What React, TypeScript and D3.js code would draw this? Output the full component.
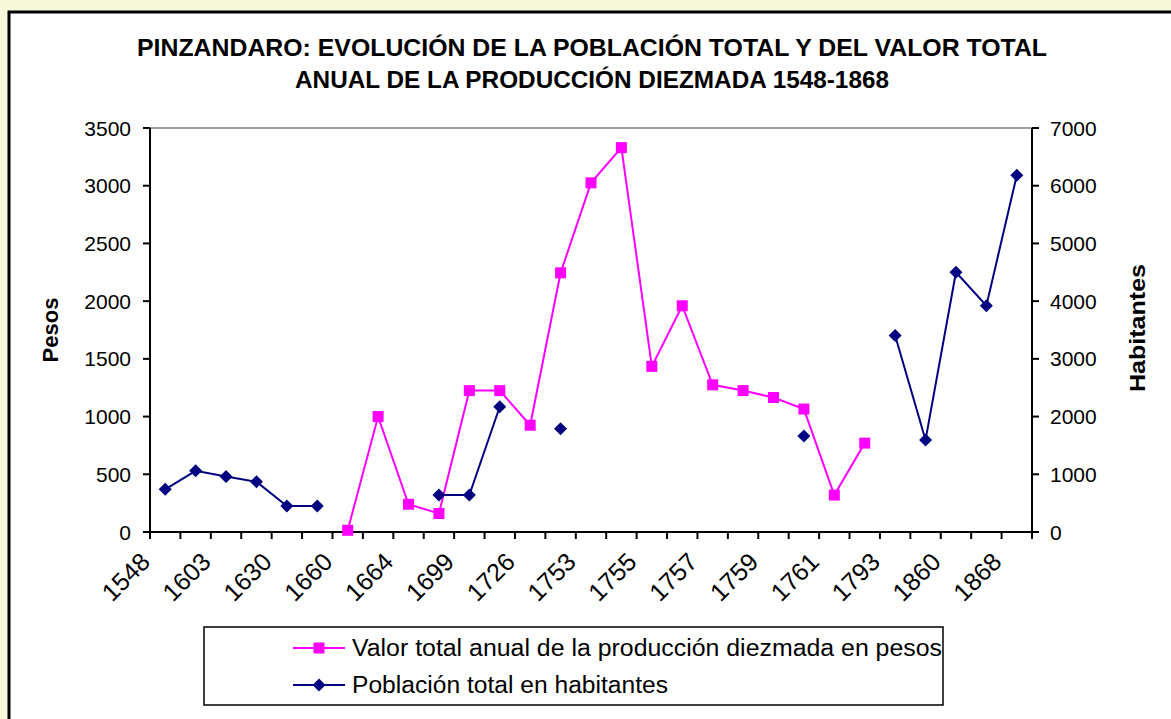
import React from "react";
import * as d3 from "d3";

// x labels (every other category is labelled in the original)
const tickLabels = ["1548", "1603", "1630", "1660", "1664", "1699", "1726", "1753", "1755", "1757", "1759", "1761", "1793", "1860", "1868"];
const categoryCount = 29;

// Valor total anual de la producción diezmada (pesos), null = no data
const pesos: (number | null)[] = [
  null, null, null, null, null, null, 15, 1000, 240, 160, 1225, 1225, 925, 2245,
  3025, 3330, 1435, 1960, 1275, 1225, 1165, 1065, 320, 770,
  null, null, null, null, null,
];

// Población total (habitantes), null = no data
const habitantes: (number | null)[] = [
  740, 1060, 960, 870, 450, 450, null, null, null, 640, 640, 2170, null, 1790,
  null, null, null, null, null, null, null, 1665, null, null,
  3405, 1595, 4500, 3920, 6180,
];

const leftTicks = [0, 500, 1000, 1500, 2000, 2500, 3000, 3500];
const rightTicks = [0, 1000, 2000, 3000, 4000, 5000, 6000, 7000];

const W = 1171;
const H = 719;
const M = { left: 150, right: 1032, top: 128, bottom: 532 };
const PINK = "#FF00FF";
const NAVY = "#000080";
const FONT = "'Liberation Sans', Arial, sans-serif";

export default function App() {
  const idx = d3.range(categoryCount);
  const x = d3.scaleBand<number>().domain(idx).range([M.left, M.right]);
  const cx = (i: number) => (x(i) as number) + x.bandwidth() / 2;
  const yL = d3.scaleLinear().domain([0, 3500]).range([M.bottom, M.top]);
  const yR = d3.scaleLinear().domain([0, 7000]).range([M.bottom, M.top]);

  const linePesos = d3
    .line<number | null>()
    .defined((d) => d != null)
    .x((_, i) => cx(i))
    .y((d) => yL(d as number));
  const lineHab = d3
    .line<number | null>()
    .defined((d) => d != null)
    .x((_, i) => cx(i))
    .y((d) => yR(d as number));

  const sq = 11;
  const dm = 6.5;
  const diamond = (px: number, py: number) =>
    `M${px},${py - dm}L${px + dm},${py}L${px},${py + dm}L${px - dm},${py}Z`;

  return (
    <svg
      width={W}
      height={H}
      style={{ position: "absolute", left: 0, top: 0, fontFamily: FONT }}
    >
      <rect x={0} y={0} width={W} height={H} fill="#F6F9DA" />
      <rect x={9} y={12} width={W + 20} height={H + 20} fill="#fff" stroke="#000" strokeWidth={3} />

      {/* title */}
      <text x={592} y={56} textAnchor="middle" fontSize={23} fontWeight="bold" textLength={910} lengthAdjust="spacingAndGlyphs">
        PINZANDARO: EVOLUCIÓN DE LA POBLACIÓN TOTAL Y DEL VALOR TOTAL
      </text>
      <text x={592} y={88} textAnchor="middle" fontSize={23} fontWeight="bold" textLength={594} lengthAdjust="spacingAndGlyphs">
        ANUAL DE LA PRODUCCIÓN DIEZMADA 1548-1868
      </text>

      {/* plot border top */}
      <line x1={M.left} x2={M.right} y1={M.top} y2={M.top} stroke="#808080" strokeWidth={1.5} />

      {/* left axis */}
      <line x1={M.left} x2={M.left} y1={M.top} y2={M.bottom} stroke="#000" strokeWidth={2} />
      {leftTicks.map((t) => (
        <g key={"l" + t}>
          <line x1={M.left - 7} x2={M.left} y1={yL(t)} y2={yL(t)} stroke="#000" strokeWidth={2} />
          <text x={M.left - 19} y={yL(t)} dy="0.36em" textAnchor="end" fontSize={21}>
            {t}
          </text>
        </g>
      ))}

      {/* right axis */}
      <line x1={M.right} x2={M.right} y1={M.top} y2={M.bottom} stroke="#000" strokeWidth={2} />
      {rightTicks.map((t) => (
        <g key={"r" + t}>
          <line x1={M.right} x2={M.right + 7} y1={yR(t)} y2={yR(t)} stroke="#000" strokeWidth={2} />
          <text x={M.right + 18} y={yR(t)} dy="0.36em" textAnchor="start" fontSize={21}>
            {t}
          </text>
        </g>
      ))}

      {/* bottom axis */}
      <line x1={M.left} x2={M.right} y1={M.bottom} y2={M.bottom} stroke="#000" strokeWidth={2} />
      {d3.range(categoryCount + 1).map((i) => {
        const px = i < categoryCount ? (x(i) as number) : M.right;
        return <line key={"t" + i} x1={px} x2={px} y1={M.bottom} y2={M.bottom + 7} stroke="#000" strokeWidth={2} />;
      })}
      {tickLabels.map((lab, k) => {
        const px = cx(k * 2);
        return (
          <text
            key={"x" + lab}
            transform={`translate(${px - 20},${M.bottom + 25}) rotate(-45)`}
            textAnchor="end"
            dy="0.36em"
            fontSize={25}
          >
            {lab}
          </text>
        );
      })}

      {/* axis titles */}
      <text transform={`translate(58,330) rotate(-90)`} textAnchor="middle" fontSize={22} fontWeight="bold">
        Pesos
      </text>
      <text transform={`translate(1145,328) rotate(-90)`} textAnchor="middle" fontSize={22} fontWeight="bold" textLength={128} lengthAdjust="spacingAndGlyphs">
        Habitantes
      </text>

      {/* series */}
      <path d={lineHab(habitantes) || ""} fill="none" stroke={NAVY} strokeWidth={2} />
      <path d={linePesos(pesos) || ""} fill="none" stroke={PINK} strokeWidth={2} />
      {habitantes.map((v, i) =>
        v == null ? null : <path key={"h" + i} d={diamond(cx(i), yR(v))} fill={NAVY} />
      )}
      {pesos.map((v, i) =>
        v == null ? null : (
          <rect key={"p" + i} x={cx(i) - sq / 2} y={yL(v) - sq / 2} width={sq} height={sq} fill={PINK} />
        )
      )}

      {/* legend */}
      <rect x={204} y={627} width={739} height={78} fill="#fff" stroke="#000" strokeWidth={1.5} />
      <line x1={293} x2={345} y1={648} y2={648} stroke={PINK} strokeWidth={2} />
      <rect x={319 - sq / 2} y={648 - sq / 2} width={sq} height={sq} fill={PINK} />
      <text x={352} y={648} dy="0.36em" fontSize={23} textLength={590} lengthAdjust="spacingAndGlyphs">
        Valor total anual de la producción diezmada en pesos
      </text>
      <line x1={293} x2={345} y1={685} y2={685} stroke={NAVY} strokeWidth={2} />
      <path d={diamond(319, 685)} fill={NAVY} />
      <text x={352} y={685} dy="0.36em" fontSize={23} textLength={316} lengthAdjust="spacingAndGlyphs">
        Población total en habitantes
      </text>
    </svg>
  );
}
